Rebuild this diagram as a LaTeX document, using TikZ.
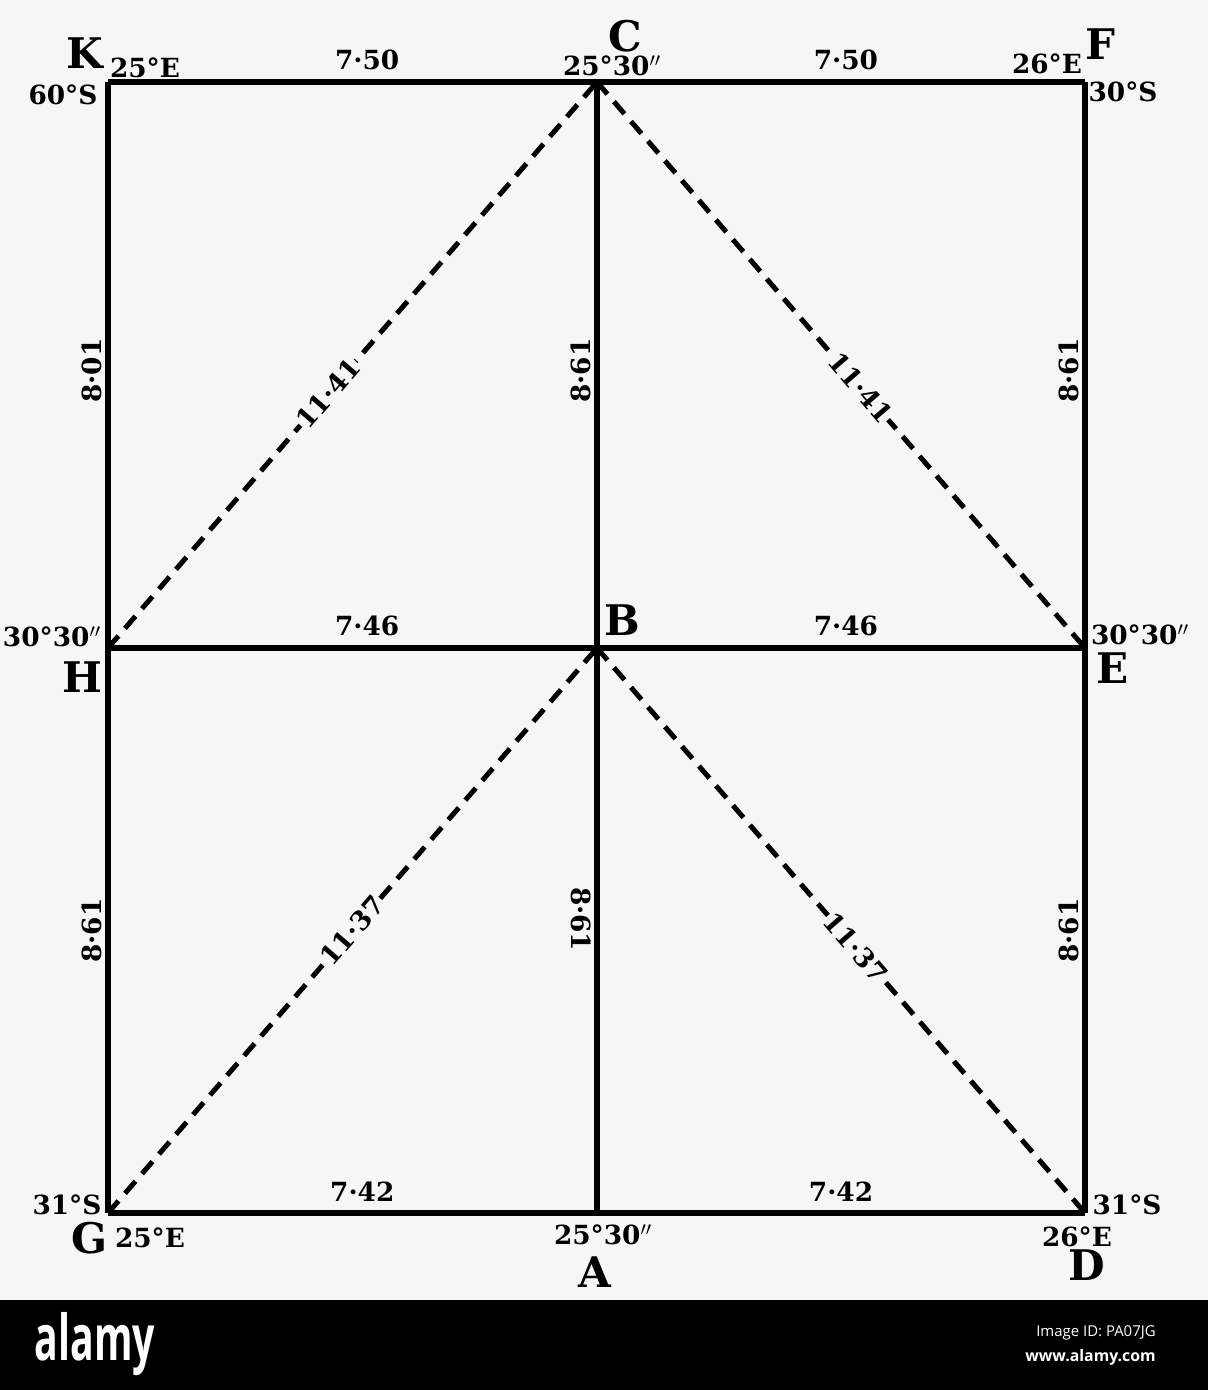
\documentclass[tikz,border=0pt]{standalone}
\usepackage{fontspec}
\setmainfont{DejaVu Serif}
\setsansfont{Open Sans}
\usetikzlibrary{positioning}

\begin{document}
\begin{tikzpicture}[x=0.2mm,y=-0.2mm,
edge/.style={line width=1.1mm},
diag/.style={line width=1mm,dash pattern=on 3.2mm off 2mm},
letter/.style={font=\fontsize{24}{24}\bfseries\selectfont,inner sep=0pt},
degree/.style={font=\fontsize{15}{15}\bfseries\selectfont,inner sep=0pt},
length/.style={font=\fontsize{15}{15}\bfseries\selectfont,inner sep=1pt},
vlength/.style={length,rotate=90,anchor=south,inner sep=2pt},
slant/.style={length,sloped,fill=gray!7,inner sep=0.5pt}
]
% paper and bottom strip
\fill[gray!7] (0,0) rectangle (1208,1300);
\fill[black] (0,1300) rectangle (1208,1390);

% corners of the survey
\coordinate (K) at (108,82);
\coordinate (C) at (597,82);
\coordinate (F) at (1085,82);
\coordinate (H) at (108,648);
\coordinate (B) at (597,648);
\coordinate (E) at (1085,648);
\coordinate (G) at (108,1213);
\coordinate (A) at (597,1213);
\coordinate (D) at (1085,1213);

% chain lines
\draw[edge] (K) -- node[length,above=1.5mm,pos=0.53] {7·50} (C)
  -- node[length,above=1.5mm,pos=0.51] {7·50} (F);
\draw[edge] (H) -- node[length,above=1.5mm,pos=0.53] {7·46} (B)
  -- node[length,above=1.5mm,pos=0.51] {7·46} (E);
\draw[edge] (G) -- node[length,above=1.5mm,pos=0.52] {7·42} (A)
  -- node[length,above=1.5mm,pos=0.5] {7·42} (D);
\draw[edge] (K) -- node[vlength,pos=0.51] {8·01} (H)
  -- node[vlength,pos=0.5] {8·61} (G);
\draw[edge] (C) -- node[vlength,pos=0.51] {8·61} (B)
  -- node[length,rotate=-90,anchor=north,inner sep=2pt,pos=0.48] {8·61} (A);
\draw[edge] (F) -- node[vlength,pos=0.51] {8·61} (E)
  -- node[vlength,pos=0.5] {8·61} (D);

% tie lines
\draw[diag] (H) -- node[slant,pos=0.45] {11·41} (C);
\draw[diag] (C) -- node[slant,pos=0.54] {11·41} (E);
\draw[diag] (G) -- node[slant,pos=0.5] {11·37} (B);
\draw[diag] (B) -- node[slant,pos=0.53] {11·37} (D);

% station letters
\node (Kname) [letter] at (85,53) {K};
\node (Cname) [letter] at (625,36) {C};
\node (Fname) [letter] at (1100,44) {F};
\node (Hname) [letter] at (82,677) {H};
\node (Bname) [letter] at (622,620) {B};
\node (Ename) [letter] at (1113,668) {E};
\node (Gname) [letter] at (90,1238) {G};
\node (Aname) [letter] at (595,1272) {A};
\node (Dname) [letter] at (1087,1265) {D};

% bearings
\node (Klong) [degree] at (145,68) {25°E};
\node (Klat) [degree] at (63,95) {60°S};
\node (Clong) [degree] at (612,66) {25°30$''$};
\node (Flong) [degree] at (1047,64) {26°E};
\node (Flat) [degree] at (1123,92) {30°S};
\node (Hlat) [degree] at (52,637) {30°30$''$};
\node (Elat) [degree] at (1140,635) {30°30$''$};
\node (Glat) [degree] at (67,1205) {31°S};
\node (Glong) [degree] at (150,1238) {25°E};
\node (Along) [degree] at (603,1235) {25°30$''$};
\node (Dlat) [degree] at (1127,1205) {31°S};
\node (Dlong) [degree] at (1077,1237) {26°E};

% watermark strip
\node (logo) [white,font=\sffamily\bfseries\fontsize{36}{36}\selectfont,xscale=0.62,inner sep=0pt] at (95,1344) {alamy};
\node (imageid) [white,font=\sffamily\fontsize{8.5}{8.5}\selectfont,inner sep=0pt,anchor=east] at (1156,1333) {Image ID: PA07JG};
\node (site) [white,font=\sffamily\bfseries\fontsize{9}{9}\selectfont,inner sep=0pt,anchor=east] at (1156,1357) {www.alamy.com};
\end{tikzpicture}
\end{document}
